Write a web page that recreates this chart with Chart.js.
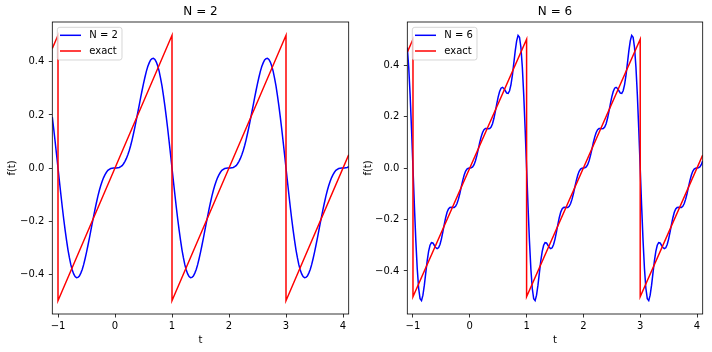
<!DOCTYPE html>
<html>
<head>
<meta charset="utf-8">
<script src="https://cdn.jsdelivr.net/npm/chart.js@4.4.1/dist/chart.umd.min.js"></script>
<style>
  html, body { margin: 0; padding: 0; background: #fff; }
  #wrap { position: relative; width: 712px; height: 352px; overflow: hidden; }
  canvas { position: absolute; top: 0; }
  #leftChart { left: 0; }
  #rightChart { left: 356px; }
</style>
</head>
<body>
<div id="wrap">
  <canvas id="leftChart" width="356" height="352"></canvas>
  <canvas id="rightChart" width="356" height="352"></canvas>
</div>
<script>
// sample times, shared by both partial sums
const t = [
  -1.1, -1.075, -1.05, -1.025, -1, -0.975, -0.95, -0.925, -0.9, -0.875, -0.85, -0.825, -0.8, -0.775, -0.75,
  -0.725, -0.7, -0.675, -0.65, -0.625, -0.6, -0.575, -0.55, -0.525, -0.5, -0.475, -0.45, -0.425, -0.4, -0.375,
  -0.35, -0.325, -0.3, -0.275, -0.25, -0.225, -0.2, -0.175, -0.15, -0.125, -0.1, -0.075, -0.05, -0.025, 0,
  0.025, 0.05, 0.075, 0.1, 0.125, 0.15, 0.175, 0.2, 0.225, 0.25, 0.275, 0.3, 0.325, 0.35, 0.375, 0.4, 0.425,
  0.45, 0.475, 0.5, 0.525, 0.55, 0.575, 0.6, 0.625, 0.65, 0.675, 0.7, 0.725, 0.75, 0.775, 0.8, 0.825, 0.85,
  0.875, 0.9, 0.925, 0.95, 0.975, 1,
  1.025, 1.05, 1.075, 1.1, 1.125, 1.15, 1.175, 1.2, 1.225, 1.25, 1.275, 1.3, 1.325, 1.35, 1.375, 1.4, 1.425,
  1.45, 1.475, 1.5, 1.525, 1.55, 1.575, 1.6, 1.625, 1.65, 1.675, 1.7, 1.725, 1.75, 1.775, 1.8, 1.825, 1.85,
  1.875, 1.9, 1.925, 1.95, 1.975, 2,
  2.025, 2.05, 2.075, 2.1, 2.125, 2.15, 2.175, 2.2, 2.225, 2.25, 2.275, 2.3, 2.325, 2.35, 2.375, 2.4, 2.425,
  2.45, 2.475, 2.5, 2.525, 2.55, 2.575, 2.6, 2.625, 2.65, 2.675, 2.7, 2.725, 2.75, 2.775, 2.8, 2.825, 2.85,
  2.875, 2.9, 2.925, 2.95, 2.975, 3,
  3.025, 3.05, 3.075, 3.1, 3.125, 3.15, 3.175, 3.2, 3.225, 3.25, 3.275, 3.3, 3.325, 3.35, 3.375, 3.4, 3.425,
  3.45, 3.475, 3.5, 3.525, 3.55, 3.575, 3.6, 3.625, 3.65, 3.675, 3.7, 3.725, 3.75, 3.775, 3.8, 3.825, 3.85,
  3.875, 3.9, 3.925, 3.95, 3.975, 4,
  4.025, 4.05, 4.075, 4.1
];

// partial sum with N = 2
const fN2 = [
  0.192, 0.147, 0.099, 0.050, 0,
  -0.050, -0.099, -0.147, -0.192, -0.234, -0.273, -0.308, -0.338, -0.364, -0.384, -0.399, -0.409, -0.413,
  -0.412, -0.407, -0.396, -0.382, -0.364, -0.342, -0.318, -0.292, -0.265, -0.237, -0.209, -0.182, -0.155,
  -0.130, -0.106, -0.085, -0.066, -0.050, -0.036, -0.025, -0.016, -0.009, -0.005, -0.002, -0.001, 0,
  0, 0, 0.001, 0.002, 0.005, 0.009, 0.016, 0.025, 0.036, 0.050, 0.066, 0.085, 0.106, 0.130, 0.155, 0.182,
  0.209, 0.237, 0.265, 0.292, 0.318, 0.342, 0.364, 0.382, 0.396, 0.407, 0.412, 0.413, 0.409, 0.399, 0.384,
  0.364, 0.338, 0.308, 0.273, 0.234, 0.192, 0.147, 0.099, 0.050, 0,
  -0.050, -0.099, -0.147, -0.192, -0.234, -0.273, -0.308, -0.338, -0.364, -0.384, -0.399, -0.409, -0.413,
  -0.412, -0.407, -0.396, -0.382, -0.364, -0.342, -0.318, -0.292, -0.265, -0.237, -0.209, -0.182, -0.155,
  -0.130, -0.106, -0.085, -0.066, -0.050, -0.036, -0.025, -0.016, -0.009, -0.005, -0.002, -0.001, 0,
  0, 0, 0.001, 0.002, 0.005, 0.009, 0.016, 0.025, 0.036, 0.050, 0.066, 0.085, 0.106, 0.130, 0.155, 0.182,
  0.209, 0.237, 0.265, 0.292, 0.318, 0.342, 0.364, 0.382, 0.396, 0.407, 0.412, 0.413, 0.409, 0.399, 0.384,
  0.364, 0.338, 0.308, 0.273, 0.234, 0.192, 0.147, 0.099, 0.050, 0,
  -0.050, -0.099, -0.147, -0.192, -0.234, -0.273, -0.308, -0.338, -0.364, -0.384, -0.399, -0.409, -0.413,
  -0.412, -0.407, -0.396, -0.382, -0.364, -0.342, -0.318, -0.292, -0.265, -0.237, -0.209, -0.182, -0.155,
  -0.130, -0.106, -0.085, -0.066, -0.050, -0.036, -0.025, -0.016, -0.009, -0.005, -0.002, -0.001, 0,
  0, 0, 0.001, 0.002, 0.005
];

// partial sum with N = 6
const fN6 = [
  0.468, 0.391, 0.282, 0.148, 0,
  -0.148, -0.282, -0.391, -0.468, -0.508, -0.515, -0.494, -0.455, -0.407, -0.361, -0.324, -0.300, -0.290,
  -0.291, -0.300, -0.309, -0.313, -0.310, -0.297, -0.276, -0.249, -0.220, -0.193, -0.172, -0.159, -0.153,
  -0.152, -0.153, -0.153, -0.149, -0.138, -0.121, -0.099, -0.073, -0.049, -0.028, -0.013, -0.004, -0.001,
  0, 0.001, 0.004, 0.013, 0.028, 0.049, 0.073, 0.099, 0.121, 0.138, 0.149, 0.153, 0.153, 0.152, 0.153,
  0.159, 0.172, 0.193, 0.220, 0.249, 0.276, 0.297, 0.310, 0.313, 0.309, 0.300, 0.291, 0.290, 0.300, 0.324,
  0.361, 0.407, 0.455, 0.494, 0.515, 0.508, 0.468, 0.391, 0.282, 0.148, 0,
  -0.148, -0.282, -0.391, -0.468, -0.508, -0.515, -0.494, -0.455, -0.407, -0.361, -0.324, -0.300, -0.290,
  -0.291, -0.300, -0.309, -0.313, -0.310, -0.297, -0.276, -0.249, -0.220, -0.193, -0.172, -0.159, -0.153,
  -0.152, -0.153, -0.153, -0.149, -0.138, -0.121, -0.099, -0.073, -0.049, -0.028, -0.013, -0.004, -0.001,
  0, 0.001, 0.004, 0.013, 0.028, 0.049, 0.073, 0.099, 0.121, 0.138, 0.149, 0.153, 0.153, 0.152, 0.153,
  0.159, 0.172, 0.193, 0.220, 0.249, 0.276, 0.297, 0.310, 0.313, 0.309, 0.300, 0.291, 0.290, 0.300, 0.324,
  0.361, 0.407, 0.455, 0.494, 0.515, 0.508, 0.468, 0.391, 0.282, 0.148, 0,
  -0.148, -0.282, -0.391, -0.468, -0.508, -0.515, -0.494, -0.455, -0.407, -0.361, -0.324, -0.300, -0.290,
  -0.291, -0.300, -0.309, -0.313, -0.310, -0.297, -0.276, -0.249, -0.220, -0.193, -0.172, -0.159, -0.153,
  -0.152, -0.153, -0.153, -0.149, -0.138, -0.121, -0.099, -0.073, -0.049, -0.028, -0.013, -0.004, -0.001,
  0, 0.001, 0.004, 0.013, 0.028
];

// exact sawtooth, corners only
const tExact = [-1.1, -1, -1, 1, 1, 3, 3, 4.1];
const fExact = [0.45, 0.5, -0.5, 0.5, -0.5, 0.5, -0.5, 0.05];

const xTicks = [-1, 0, 1, 2, 3, 4];
const yTicks = [-0.4, -0.2, 0, 0.2, 0.4];

Chart.defaults.font.family = "'DejaVu Sans', sans-serif";
Chart.defaults.color = '#000';

const minus = s => s.replace('-', '\u2212');

// black box round the plot area, like the matplotlib spines
const frame = {
    id: 'frame',
    afterDatasetsDraw(chart) {
        const a = chart.chartArea;
        const ctx = chart.ctx;
        ctx.save();
        ctx.strokeStyle = '#000';
        ctx.lineWidth = 0.8;
        ctx.strokeRect(a.left, a.top, a.right - a.left, a.bottom - a.top);
        ctx.restore();
    }
};

// legend drawn inside the plot area (upper left)
const boxLegend = {
    id: 'boxLegend',
    afterDraw(chart) {
        const a = chart.chartArea;
        const ctx = chart.ctx;
        const x0 = a.left + 5, y0 = a.top + 5.3, w = 64.7, h = 32.7, r = 2.5;
        ctx.save();
        ctx.beginPath();
        ctx.moveTo(x0 + r, y0);
        ctx.lineTo(x0 + w - r, y0);
        ctx.arcTo(x0 + w, y0, x0 + w, y0 + r, r);
        ctx.lineTo(x0 + w, y0 + h - r);
        ctx.arcTo(x0 + w, y0 + h, x0 + w - r, y0 + h, r);
        ctx.lineTo(x0 + r, y0 + h);
        ctx.arcTo(x0, y0 + h, x0, y0 + h - r, r);
        ctx.lineTo(x0, y0 + r);
        ctx.arcTo(x0, y0, x0 + r, y0, r);
        ctx.closePath();
        ctx.fillStyle = 'rgba(255,255,255,0.8)';
        ctx.fill();
        ctx.strokeStyle = 'rgba(204,204,204,0.8)';
        ctx.lineWidth = 1;
        ctx.stroke();

        ctx.font = "10px 'DejaVu Sans', sans-serif";
        ctx.textBaseline = 'middle';
        ctx.textAlign = 'left';
        chart.data.datasets.forEach((ds, i) => {
            const y = y0 + 8 + i * 15.7;
            ctx.strokeStyle = ds.borderColor;
            ctx.lineWidth = 1.5;
            ctx.beginPath();
            ctx.moveTo(x0 + 2.7, y);
            ctx.lineTo(x0 + 23.7, y);
            ctx.stroke();
            ctx.fillStyle = '#000';
            ctx.fillText(ds.label, x0 + 32, y + 0.5);
        });
        ctx.restore();
    }
};

function makeChart(id, title, label, values, yLim, axisWidth, padRight) {
    const ctx = document.getElementById(id);
    return new Chart(ctx, {
        type: 'line',
        data: {
            datasets: [{
                label: label,
                data: t.map((x, i) => ({ x: x, y: values[i] })),
                borderColor: '#0000ff',
                borderWidth: 1.5,
                pointRadius: 0,
                tension: 0,
                order: 1
            }, {
                label: 'exact',
                data: tExact.map((x, i) => ({ x: x, y: fExact[i] })),
                borderColor: '#ff0000',
                borderWidth: 1.5,
                pointRadius: 0,
                tension: 0,
                order: 0
            }]
        },
        options: {
            responsive: false,
            animation: false,
            devicePixelRatio: 1,
            layout: {
                padding: { left: 0, top: 0, right: padRight, bottom: 0 }
            },
            plugins: {
                legend: { display: false },
                tooltip: { enabled: false },
                title: {
                    display: true,
                    text: title,
                    fullSize: false,
                    color: '#000',
                    font: { size: 12, weight: 'normal' },
                    padding: { top: 5, bottom: 2.6 }
                }
            },
            scales: {
                x: {
                    type: 'linear',
                    min: -1.1,
                    max: 4.1,
                    afterBuildTicks: s => { s.ticks = xTicks.map(v => ({ value: v })); },
                    afterFit: s => { s.height = 38; },
                    ticks: {
                        color: '#000',
                        font: { size: 10 },
                        padding: 3,
                        maxRotation: 0,
                        callback: v => minus(String(v))
                    },
                    grid: {
                        drawOnChartArea: false,
                        drawTicks: true,
                        tickLength: 3.5,
                        tickColor: '#000',
                        tickWidth: 0.8
                    },
                    border: { display: false },
                    title: {
                        display: true,
                        text: 't',
                        color: '#000',
                        font: { size: 10 },
                        padding: { top: 0, bottom: 5.5 }
                    }
                },
                y: {
                    type: 'linear',
                    min: -yLim,
                    max: yLim,
                    afterBuildTicks: s => { s.ticks = yTicks.map(v => ({ value: v })); },
                    afterFit: s => { s.width = axisWidth; },
                    ticks: {
                        color: '#000',
                        font: { size: 10 },
                        padding: 4.5,
                        callback: v => Math.abs(v) < 1e-9 ? '0.0' : minus(v.toFixed(1))
                    },
                    grid: {
                        drawOnChartArea: false,
                        drawTicks: true,
                        tickLength: 3.5,
                        tickColor: '#000',
                        tickWidth: 0.8
                    },
                    border: { display: false },
                    title: {
                        display: true,
                        text: 'f(t)',
                        color: '#000',
                        font: { size: 10 },
                        padding: { top: 6, bottom: 0 }
                    }
                }
            }
        },
        plugins: [frame, boxLegend]
    });
}

makeChart('leftChart', 'N = 2', 'N = 2', fN2, 0.55, 52.3, 7.3);
makeChart('rightChart', 'N = 6', 'N = 6', fN6, 0.567, 51.3, 9.3);
</script>
</body>
</html>
